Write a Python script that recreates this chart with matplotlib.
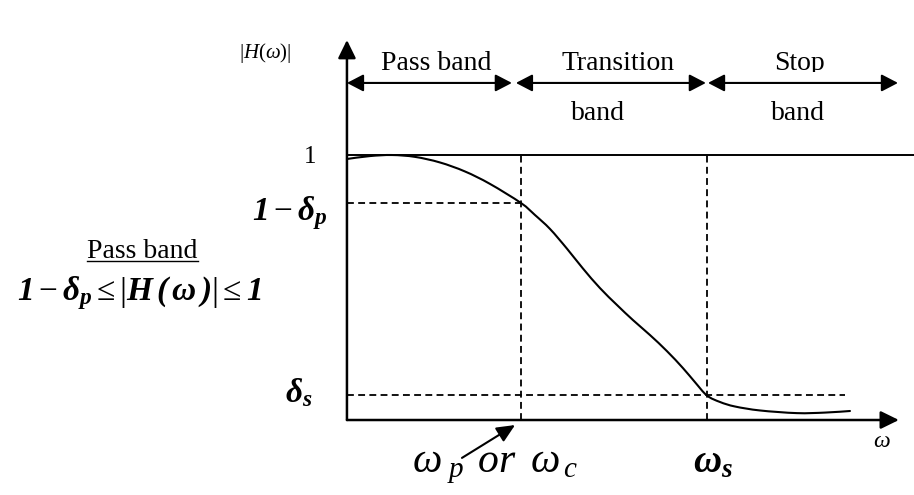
import matplotlib
matplotlib.use("Agg")
import matplotlib.pyplot as plt
from matplotlib.patches import FancyArrowPatch, PathPatch
from matplotlib.path import Path
from matplotlib.transforms import Bbox, TransformedBbox

plt.rcParams["font.family"] = ["Liberation Serif", "DejaVu Serif"]
plt.rcParams["mathtext.fontset"] = "custom"
plt.rcParams["mathtext.rm"] = "Liberation Serif"
plt.rcParams["mathtext.it"] = "Liberation Serif:italic"
plt.rcParams["mathtext.bf"] = "Liberation Serif:bold"
plt.rcParams["mathtext.bfit"] = "Liberation Serif:italic:bold"

# Magnitude response |H(w)| of a low-pass filter (w in units of the passband edge)
omega = [0, 0.132, 0.259, 0.391, 0.534, 0.678, 0.822, 1.0, 1.080, 1.167,
         1.264, 1.356, 1.454, 1.552, 1.644, 1.741, 1.839, 1.931, 2.0, 2.069,
         2.144, 2.230, 2.374, 2.586, 2.747, 2.891]
magnitude = [0.985, 0.996, 1.0, 0.993, 0.972, 0.938, 0.891, 0.819, 0.774, 0.721,
             0.647, 0.572, 0.498, 0.434, 0.377, 0.321, 0.260, 0.196, 0.143, 0.0925,
             0.068, 0.051, 0.036, 0.026, 0.028, 0.034]

# Specification levels and band edges
unity = 1.0
pass_level = 0.819      # 1 - delta_p
stop_level = 0.0925     # delta_s
omega_p = 1.0
omega_s = 2.069
omega_max = 3.172
stop_dash_end = 2.862
mag_max = 1.434

# Band annotation arrows: (start, end) pairs and labels
band_spans = [(0.0, 0.948), (0.971, 2.063), (2.075, 3.167)]
band_titles = ["Pass band", "Transition", "Stop"]
band_subtitles = ["", "band", "band"]
band_title_x = [0.511, 1.557, 2.600]
band_sub_x = [0.0, 1.440, 2.590]
band_y = 1.272


def smooth_path(xs, ys):
    """Cubic Bezier path passing through every (x, y) pair (Catmull-Rom tangents)."""
    pts = list(zip(xs, ys))
    verts = [pts[0]]
    codes = [Path.MOVETO]
    n = len(pts)
    for i in range(n - 1):
        p0 = pts[i - 1] if i > 0 else pts[i]
        p1 = pts[i]
        p2 = pts[i + 1]
        p3 = pts[i + 2] if i + 2 < n else pts[i + 1]
        c1 = (p1[0] + (p2[0] - p0[0]) / 6, p1[1] + (p2[1] - p0[1]) / 6)
        c2 = (p2[0] - (p3[0] - p1[0]) / 6, p2[1] - (p3[1] - p1[1]) / 6)
        verts += [c1, c2, p2]
        codes += [Path.CURVE4] * 3
    return Path(verts, codes)


fig = plt.figure(figsize=(9.14, 4.95), dpi=100)
ax = fig.add_axes([0, 0, 1, 1])
ax.set_xlim(-1.994, 3.259)
ax.set_ylim(-0.283, 1.585)
ax.axis("off")

# Axes with arrowheads
axis_style = "-|>,head_length=0.55,head_width=0.27"
ax.add_patch(FancyArrowPatch((0, 0), (omega_max, 0), arrowstyle=axis_style,
                             mutation_scale=20, lw=1.8, color="black",
                             shrinkA=0, shrinkB=0))
ax.add_patch(FancyArrowPatch((0, 0), (0, mag_max), arrowstyle=axis_style,
                             mutation_scale=20, lw=1.8, color="black",
                             shrinkA=0, shrinkB=0))

# Unity gain line
ax.plot([0, ax.get_xlim()[1]], [unity, unity], color="black", lw=1.4,
        solid_capstyle="butt")

# Dashed tolerance / band-edge guides
dash = dict(color="black", lw=1.3, dashes=(3.8, 2.4))
ax.plot([0, omega_p], [pass_level, pass_level], **dash)
ax.plot([0, stop_dash_end], [stop_level, stop_level], **dash)
ax.plot([omega_p, omega_p], [0, unity], **dash)
ax.plot([omega_s, omega_s], [0, unity], **dash)

# Response curve
ax.add_patch(PathPatch(smooth_path(omega, magnitude), facecolor="none",
                       edgecolor="black", lw=1.5, capstyle="round"))

# Band arrows and labels
band_style = "<|-|>,head_length=0.5,head_width=0.26"
clip = TransformedBbox(Bbox.from_extents(-5, 1.313, 10, 5), ax.transData)
for (a, b), title, sub, tx, sx in zip(band_spans, band_titles, band_subtitles,
                                      band_title_x, band_sub_x):
    ax.add_patch(FancyArrowPatch((a, band_y), (b, band_y), arrowstyle=band_style,
                                 mutation_scale=20, lw=1.5, color="black",
                                 shrinkA=0, shrinkB=0))
    t = ax.text(tx, 1.321, title, ha="center", va="baseline", fontsize=20)
    if title == "Stop":
        t.set_clip_box(clip)
        t.set_clip_on(True)
    if sub:
        ax.text(sx, 1.132, sub, ha="center", va="baseline", fontsize=20)

# Vertical axis labels
ax.text(-0.316, 1.366, r"$|H(\omega)|$", ha="right", va="baseline", fontsize=15)
ax.text(-0.213, 0.970, "1", ha="center", va="baseline", fontsize=18)
ax.text(-0.109, 0.755, r"$\mathbfit{1}-\mathbfit{\delta}_{\mathbfit{p}}$",
        ha="right", va="baseline", fontsize=24)
ax.text(-0.195, 0.068, r"$\mathbfit{\delta}_{\mathbfit{s}}$",
        ha="right", va="baseline", fontsize=24)

# Passband specification
pb = ax.text(-1.175, 0.611, "Pass band", ha="center", va="baseline", fontsize=20)
ax.text(-1.193, 0.453,
        r"$\mathbfit{1}-\mathbfit{\delta}_{\mathbfit{p}}\leq\left|\mathbfit{H}\,\mathbfit{(}\,\mathbfit{\omega}\,\mathbfit{)}\right|\leq\mathbfit{1}$",
        ha="center", va="baseline", fontsize=24)

# Frequency axis labels
ax.text(3.075, -0.102, r"$\omega$", ha="center", va="baseline", fontsize=17)
ax.text(0.374, -0.196, r"$\omega_{\ p}\;\,or\;\;\omega_{\,c}$", ha="left",
        va="baseline", fontsize=30)
ax.text(1.989, -0.196, r"$\mathbfit{\omega}_{\mathbfit{s}}$", ha="left",
        va="baseline", fontsize=28)
ax.annotate("", xy=(0.966, -0.019), xytext=(0.661, -0.143),
            arrowprops=dict(arrowstyle="-|>,head_length=0.55,head_width=0.25",
                            mutation_scale=20, lw=1.5, color="black",
                            shrinkA=0, shrinkB=0))

# Underline for the passband caption
fig.canvas.draw()
bb = pb.get_window_extent().transformed(ax.transData.inverted())
ax.plot([bb.x0, bb.x1], [0.600, 0.600], color="black", lw=1.0)

fig.savefig("out.png", dpi=100)
